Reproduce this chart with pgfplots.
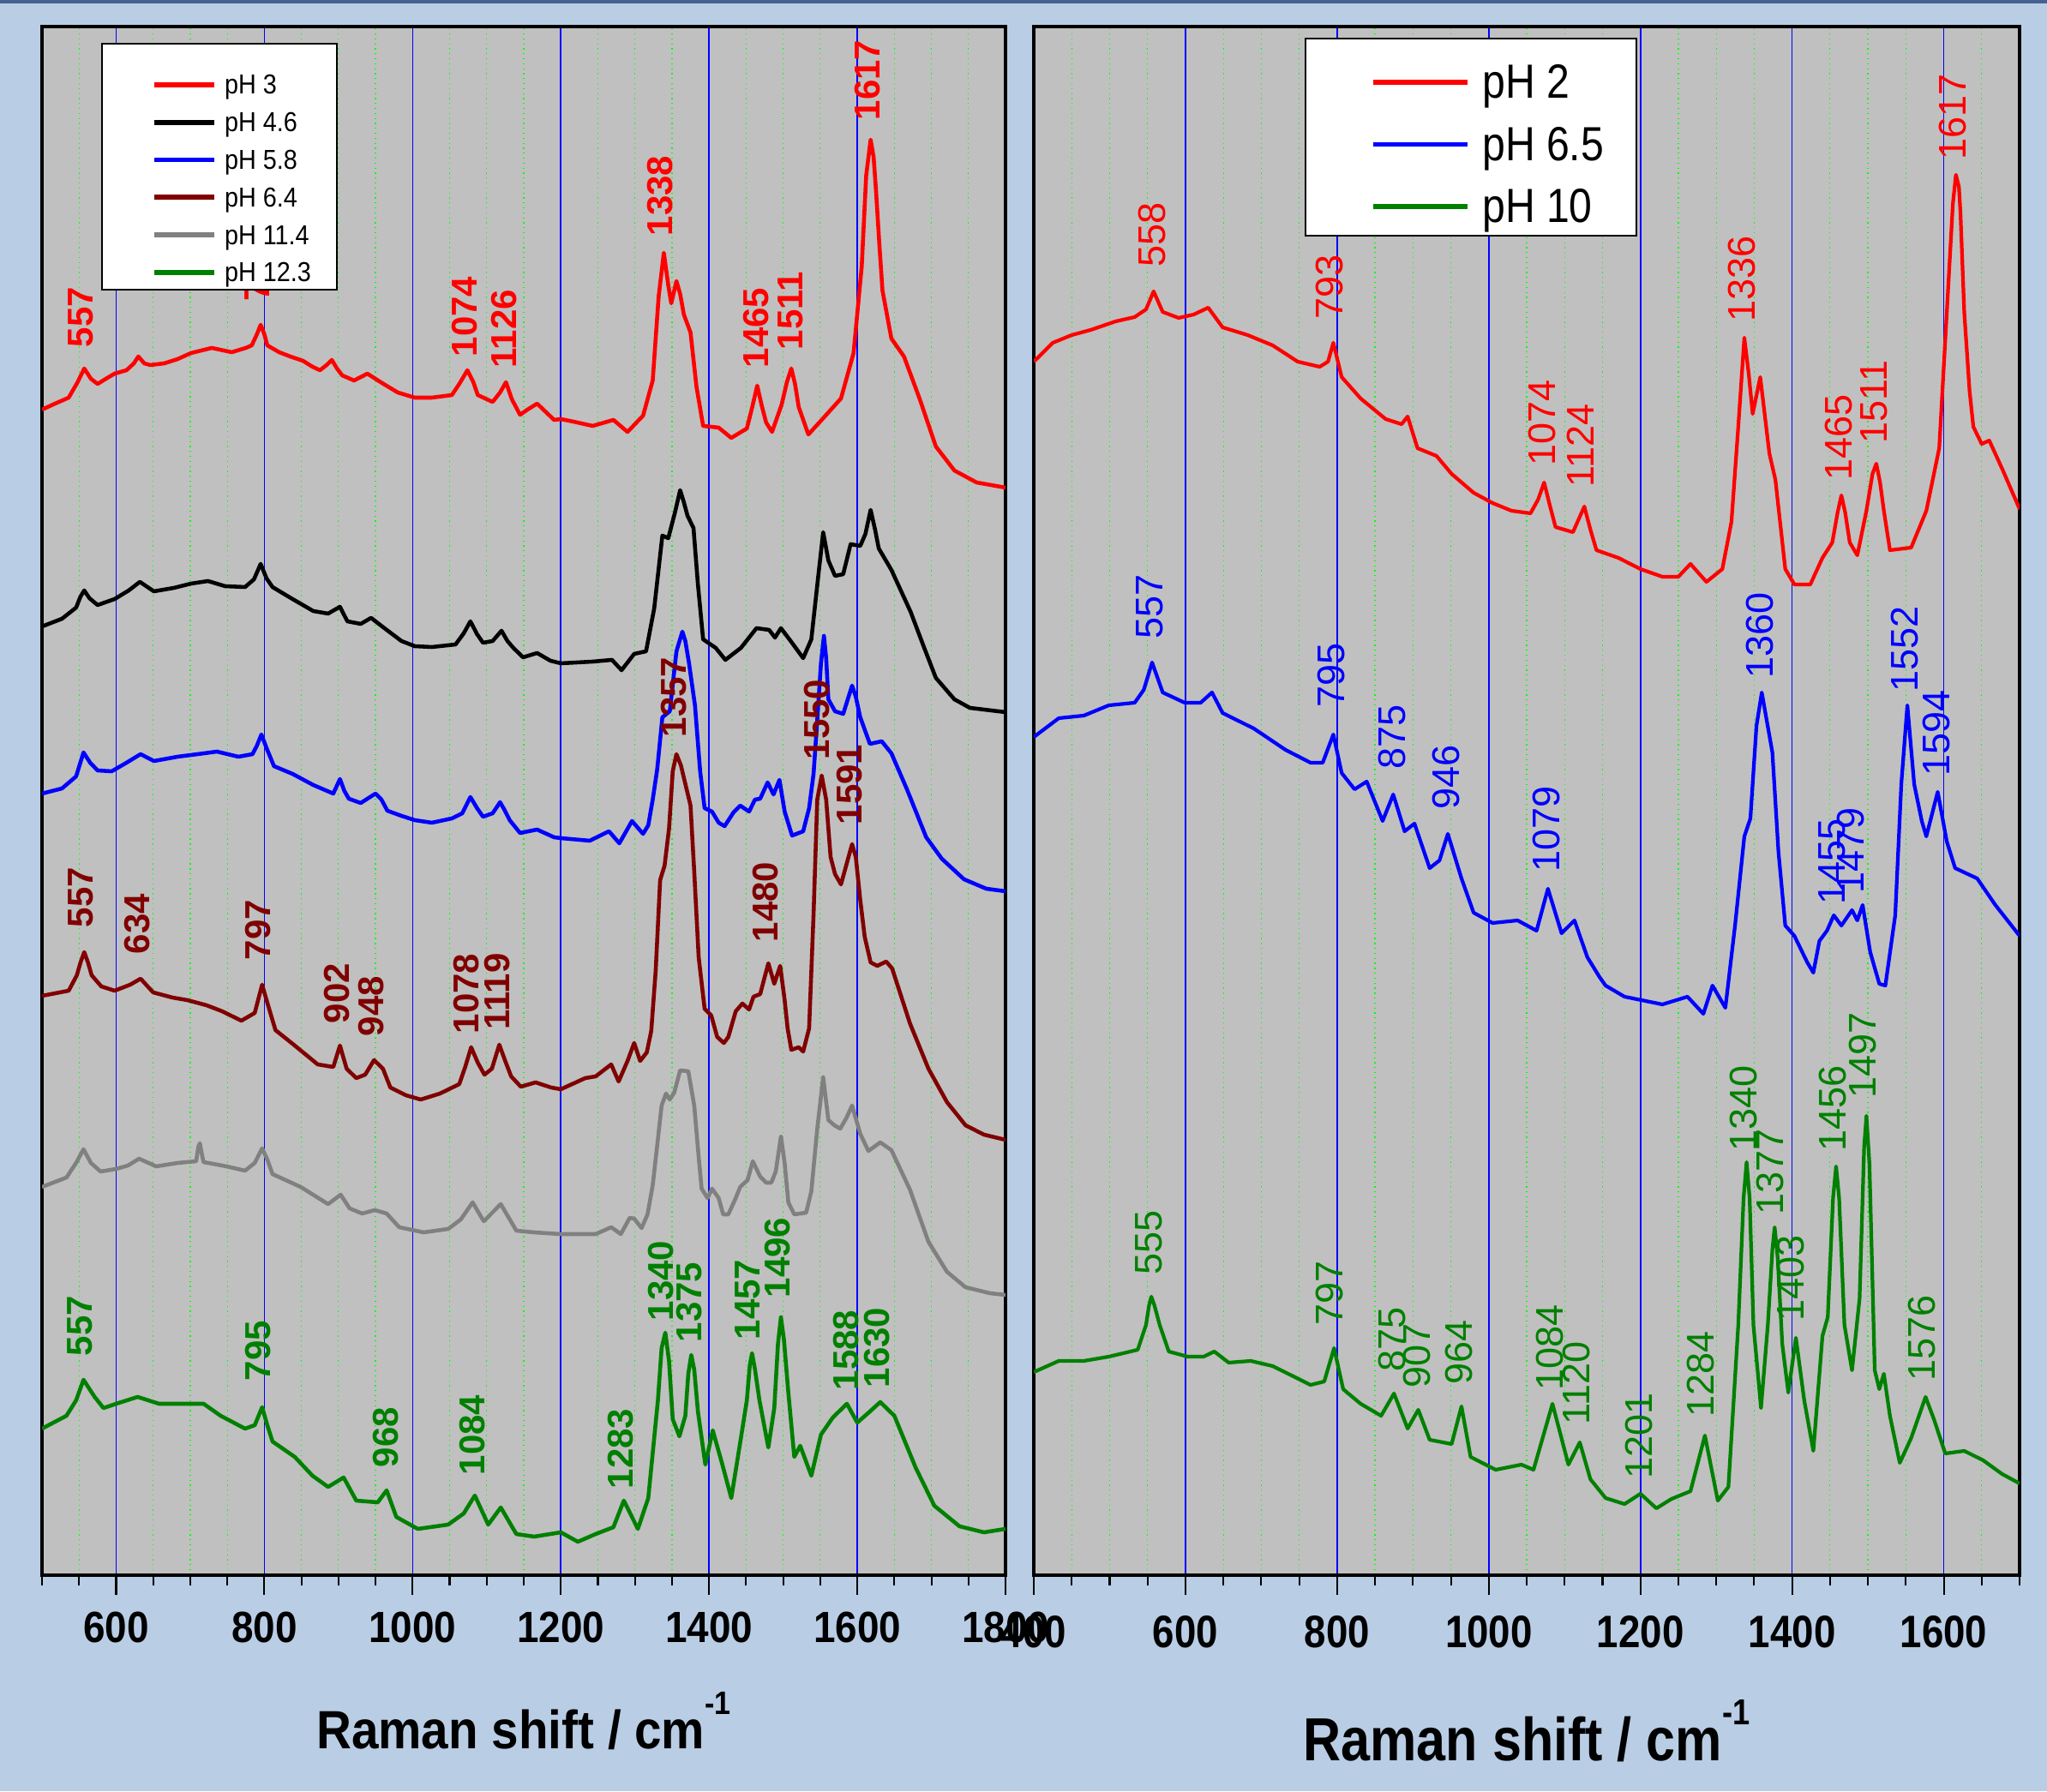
\documentclass[border=0pt]{standalone}
\usepackage{pgfplots}
\pgfplotsset{compat=1.18}
\usepackage{fontspec}
\setmainfont{Liberation Sans}
\newfontfamily\nf[FakeStretch=0.9]{Liberation Sans}
\newfontfamily\nfr[FakeStretch=0.86]{Liberation Sans}
\definecolor{bgblue}{HTML}{B9CDE5}
\definecolor{plotgray}{HTML}{C0C0C0}
\definecolor{topbar}{HTML}{44628F}
\definecolor{dred}{HTML}{800000}
\definecolor{mygreen}{HTML}{008000}
\definecolor{mygray}{HTML}{808080}
\definecolor{gridgreen}{HTML}{00FF00}
\tikzset{lab/.style={rotate=90, anchor=west, inner sep=0pt}}
\begin{document}
\begin{tikzpicture}
\fill[bgblue] (0,0) rectangle (23.88,20.90);
\useasboundingbox (0,0) rectangle (23.88,20.90);
\fill[topbar] (0,20.86) rectangle (23.88,20.90);
\pgfplotsset{
  common/.style={
    scale only axis, height=18.07cm, ymin=0, ymax=1807, ytick=\empty,
    axis background/.style={fill=plotgray},
    axis line style={black, line width=1pt},
    tick align=outside, xtick pos=left,
    major tick length=0.23cm, minor tick length=0.12cm,
    tick style={black, line width=0.6pt},
    xmajorgrids, xminorgrids,
    major grid style={blue, line width=0.45pt},
    minor grid style={gridgreen, line width=0.35pt, dash pattern=on 0.35pt off 1.3pt},
    every axis plot/.append style={line width=1.3pt, line join=round},
    legend cell align=left,
  },
}
% ---------------- LEFT PANEL ----------------
\begin{axis}[common, at={(0.49cm,2.52cm)}, anchor=south west, width=11.24cm,
  xmin=500, xmax=1800, xtick={600,800,...,1800},
  xticklabels={600,800,1000,1200,1400,1600,1800},
  minor xtick={500,550,650,700,750,850,900,950,1050,1100,1150,1250,1300,1350,1450,1500,1550,1650,1700,1750},
  xticklabel style={font=\nf\bfseries\fontsize{14.5pt}{16pt}\selectfont, inner sep=0pt, anchor=north, yshift=-0.19cm},
  xlabel={Raman shift / cm\raisebox{0.63em}{\fontsize{10.8pt}{11pt}\selectfont -1}},
  xlabel style={font=\nf\bfseries\fontsize{17.9pt}{20pt}\selectfont, at={(axis description cs:0.5,-0.1118)}, anchor=base, inner sep=0pt},
  legend style={draw=none, fill=none, at={(0.1139,0.9707)}, anchor=north west, inner sep=0pt, outer sep=0pt, row sep=0.138cm, column sep=0.09cm, font=\nf\fontsize{9.1pt}{10pt}\selectfont, nodes={inner sep=0pt, text height=0.26cm, text depth=0.04cm}},
  legend image code/.code={\draw[#1, line width=1.7pt] (0cm,0cm) -- (0.70cm,0cm);},
]
\addplot[red] coordinates {(500,1360)(515,1366)(536,1374)(548,1392)(557,1408)(566,1396)(575,1390)(590,1398)(598,1402)(614,1406)(624,1414)(630,1422)(638,1414)(646,1412)(665,1414)(683,1419)(701,1426)(729,1432)(756,1427)(775,1432)(783,1435)(790,1448)(795,1459)(800,1448)(804,1435)(820,1427)(835,1422)(852,1417)(865,1410)(875,1406)(884,1412)(891,1418)(898,1408)(905,1400)(921,1394)(939,1402)(957,1392)(980,1380)(1003,1374)(1026,1374)(1053,1377)(1063,1390)(1074,1406)(1082,1392)(1088,1377)(1108,1369)(1118,1380)(1126,1392)(1134,1372)(1145,1354)(1155,1360)(1168,1367)(1191,1348)(1200,1349)(1217,1346)(1243,1341)(1271,1348)(1290,1334)(1311,1353)(1324,1394)(1332,1492)(1339,1543)(1345,1505)(1349,1484)(1356,1510)(1361,1495)(1366,1471)(1375,1450)(1383,1387)(1392,1341)(1413,1339)(1430,1327)(1451,1338)(1458,1362)(1465,1388)(1471,1365)(1477,1345)(1485,1334)(1498,1366)(1505,1392)(1511,1408)(1516,1390)(1521,1363)(1534,1331)(1553,1349)(1578,1373)(1595,1426)(1606,1527)(1612,1633)(1618,1675)(1622,1655)(1625,1619)(1630,1550)(1634,1499)(1646,1443)(1663,1422)(1684,1373)(1706,1317)(1731,1289)(1761,1275)(1800,1269)};
\addplot[black] coordinates {(500,1107)(527,1116)(546,1129)(552,1142)(557,1149)(564,1140)(575,1132)(598,1139)(617,1149)(632,1159)(651,1148)(678,1152)(701,1157)(724,1160)(747,1154)(774,1153)(786,1162)(795,1180)(803,1163)(811,1153)(838,1139)(866,1125)(886,1122)(902,1130)(912,1113)(930,1110)(944,1117)(962,1105)(985,1090)(1003,1084)(1026,1083)(1058,1086)(1069,1099)(1078,1113)(1087,1098)(1095,1088)(1108,1090)(1120,1102)(1128,1090)(1136,1082)(1149,1071)(1168,1076)(1186,1067)(1200,1064)(1243,1066)(1269,1068)(1282,1056)(1299,1075)(1315,1078)(1326,1128)(1337,1213)(1345,1210)(1354,1240)(1361,1266)(1366,1252)(1371,1236)(1379,1222)(1385,1156)(1392,1092)(1409,1082)(1422,1068)(1443,1082)(1464,1105)(1481,1103)(1489,1094)(1497,1105)(1511,1089)(1527,1070)(1538,1092)(1547,1163)(1554,1217)(1561,1184)(1570,1166)(1581,1168)(1591,1203)(1604,1201)(1611,1215)(1618,1243)(1624,1220)(1629,1198)(1646,1173)(1672,1124)(1689,1085)(1706,1047)(1731,1022)(1752,1012)(1800,1007)};
\addplot[blue] coordinates {(500,912)(527,918)(546,932)(556,960)(565,948)(575,939)(594,938)(614,948)(633,958)(651,950)(683,955)(710,958)(736,961)(765,955)(784,958)(790,968)(796,981)(803,965)(813,944)(838,935)(866,922)(893,912)(902,929)(908,915)(914,906)(930,901)(950,912)(958,905)(966,892)(985,886)(1003,881)(1026,878)(1053,883)(1067,889)(1078,908)(1087,895)(1095,885)(1108,889)(1118,902)(1124,893)(1131,881)(1145,866)(1168,870)(1191,861)(1200,860)(1239,857)(1265,868)(1279,854)(1296,880)(1311,865)(1318,875)(1324,905)(1330,940)(1337,1001)(1347,1008)(1356,1078)(1364,1101)(1368,1090)(1373,1064)(1381,1015)(1388,938)(1394,895)(1404,891)(1413,878)(1421,874)(1433,890)(1442,898)(1454,891)(1462,905)(1469,906)(1479,925)(1487,911)(1495,928)(1502,891)(1512,863)(1527,868)(1535,895)(1541,935)(1545,985)(1551,1064)(1555,1096)(1558,1070)(1561,1022)(1570,1008)(1581,1005)(1593,1038)(1598,1025)(1604,1001)(1617,970)(1633,973)(1646,959)(1667,917)(1693,861)(1714,836)(1744,812)(1774,801)(1800,798)};
\addplot[dred] coordinates {(500,676)(536,682)(547,700)(552,715)(557,727)(562,715)(567,700)(580,687)(598,682)(619,689)(633,696)(650,680)(676,674)(696,671)(722,665)(743,658)(769,647)(787,656)(797,689)(805,665)(815,636)(841,618)(872,596)(893,593)(902,618)(911,591)(924,580)(936,584)(948,601)(960,591)(970,569)(991,560)(1011,555)(1037,562)(1063,573)(1071,593)(1079,616)(1088,598)(1097,584)(1107,591)(1117,619)(1125,600)(1133,582)(1146,570)(1166,575)(1187,569)(1200,567)(1233,580)(1247,582)(1268,596)(1278,576)(1290,600)(1299,621)(1307,600)(1316,610)(1322,635)(1328,705)(1334,811)(1340,828)(1346,871)(1351,938)(1356,958)(1362,945)(1375,898)(1380,821)(1386,721)(1394,661)(1403,653)(1411,628)(1420,621)(1426,628)(1436,658)(1445,667)(1454,660)(1460,675)(1469,678)(1480,714)(1488,690)(1496,711)(1502,671)(1506,638)(1511,613)(1521,616)(1527,611)(1535,638)(1541,771)(1546,905)(1552,933)(1558,905)(1564,838)(1570,818)(1578,806)(1585,828)(1593,853)(1598,838)(1604,788)(1610,745)(1618,715)(1627,711)(1639,716)(1647,708)(1671,644)(1696,591)(1721,552)(1746,525)(1771,514)(1800,508)};
\addplot[mygray] coordinates {(500,453)(533,464)(546,481)(556,497)(566,481)(579,471)(600,474)(616,478)(631,486)(654,477)(683,481)(708,483)(711,500)(713,504)(716,490)(718,482)(749,477)(774,472)(787,481)(797,498)(804,485)(811,468)(849,453)(886,433)(903,444)(915,428)(932,422)(949,426)(965,422)(982,406)(1015,400)(1048,404)(1065,415)(1081,435)(1096,413)(1119,433)(1140,402)(1164,400)(1200,398)(1247,398)(1268,406)(1281,398)(1293,417)(1299,416)(1309,405)(1317,421)(1324,455)(1330,501)(1336,548)(1342,562)(1347,555)(1353,563)(1361,589)(1372,588)(1380,548)(1386,488)(1390,451)(1398,440)(1404,451)(1413,440)(1419,421)(1426,421)(1436,440)(1442,453)(1452,461)(1459,483)(1469,465)(1477,458)(1484,458)(1490,471)(1497,512)(1502,481)(1507,435)(1515,421)(1531,423)(1538,448)(1546,521)(1554,581)(1561,531)(1569,525)(1577,521)(1585,533)(1593,548)(1604,515)(1615,495)(1631,505)(1646,496)(1671,450)(1696,389)(1721,354)(1746,336)(1779,329)(1800,327)};
\addplot[mygreen] coordinates {(500,171)(533,186)(546,204)(556,228)(571,208)(583,195)(600,200)(629,208)(658,200)(691,200)(718,200)(741,186)(774,171)(787,175)(797,196)(804,175)(811,156)(841,138)(865,116)(886,103)(907,114)(924,87)(953,85)(965,99)(978,68)(1007,54)(1048,59)(1069,72)(1084,93)(1102,59)(1119,79)(1140,48)(1164,45)(1200,50)(1223,39)(1247,48)(1271,56)(1285,87)(1304,54)(1318,90)(1331,204)(1336,265)(1341,283)(1346,250)(1351,182)(1360,162)(1368,186)(1372,235)(1376,257)(1380,240)(1385,191)(1395,129)(1405,169)(1418,129)(1430,90)(1443,160)(1451,204)(1455,245)(1458,259)(1462,240)(1468,204)(1480,149)(1488,195)(1493,270)(1497,301)(1501,275)(1507,213)(1515,138)(1523,151)(1538,116)(1551,164)(1567,184)(1586,200)(1600,178)(1617,191)(1631,202)(1650,186)(1679,125)(1704,81)(1738,57)(1771,50)(1800,54)};
\legend{pH 3,pH 4.6,pH 5.8,pH 6.4,pH 11.4,pH 12.3}
\begin{scope}[every node/.style={lab, font=\bfseries\fontsize{11.95pt}{13pt}\selectfont}]
\node[text=red] at (axis cs:552,1432) {557};
\node[text=red] at (axis cs:790,1486) {797};
\node[text=red] at (axis cs:1070,1421) {1074};
\node[text=red] at (axis cs:1124,1408) {1126};
\node[text=red] at (axis cs:1334,1562) {1338};
\node[text=red] at (axis cs:1464,1408) {1465};
\node[text=red] at (axis cs:1510,1429) {1511};
\node[text=red] at (axis cs:1614,1697) {1617};
\node[text=dred] at (axis cs:552,755) {557};
\node[text=dred] at (axis cs:629,724) {634};
\node[text=dred] at (axis cs:792,717) {797};
\node[text=dred] at (axis cs:898,643) {902};
\node[text=dred] at (axis cs:944,628) {948};
\node[text=dred] at (axis cs:1072,631) {1078};
\node[text=dred] at (axis cs:1114,636) {1119};
\node[text=dred] at (axis cs:1353,977) {1357};
\node[text=dred] at (axis cs:1476,738) {1480};
\node[text=dred] at (axis cs:1546,951) {1550};
\node[text=dred] at (axis cs:1589,875) {1591};
\node[text=mygreen] at (axis cs:551.5,255) {557};
\node[text=mygreen] at (axis cs:791,226) {795};
\node[text=mygreen] at (axis cs:964,125) {968};
\node[text=mygreen] at (axis cs:1080.6,116) {1084};
\node[text=mygreen] at (axis cs:1281,100) {1283};
\node[text=mygreen] at (axis cs:1335.5,296) {1340};
\node[text=mygreen] at (axis cs:1373,271) {1375};
\node[text=mygreen] at (axis cs:1452,274) {1457};
\node[text=mygreen] at (axis cs:1492.5,323) {1496};
\node[text=mygreen] at (axis cs:1584.7,215) {1588};
\node[text=mygreen] at (axis cs:1626,218) {1630};
\end{scope}
\draw[fill=white, draw=black, line width=0.6pt] (axis cs:581,1500) rectangle (axis cs:898,1787);
\end{axis}
% ---------------- RIGHT PANEL ----------------
\begin{axis}[common, at={(12.06cm,2.52cm)}, anchor=south west, width=11.50cm,
  xmin=400, xmax=1700, xtick={400,600,...,1600},
  xticklabels={400,600,800,1000,1200,1400,1600},
  minor xtick={450,500,550,650,700,750,850,900,950,1050,1100,1150,1250,1300,1350,1450,1500,1550,1650,1700},
  xticklabel style={font=\nfr\bfseries\fontsize{15.1pt}{17pt}\selectfont, inner sep=0pt, anchor=north, yshift=-0.24cm},
  xlabel={Raman shift / cm\raisebox{0.59em}{\fontsize{12pt}{13pt}\selectfont -1}},
  xlabel style={font=\nfr\bfseries\fontsize{20.2pt}{22pt}\selectfont, at={(axis description cs:0.5,-0.120)}, anchor=base, inner sep=0pt},
  every axis plot/.append style={line width=1.2pt},
  legend style={draw=none, fill=none, at={(0.3417,0.9779)}, anchor=north west, inner sep=0pt, outer sep=0pt, row sep=0.225cm, column sep=0.15cm, font=\nfr\fontsize{15.93pt}{17pt}\selectfont, nodes={inner sep=0pt, text height=0.44cm, text depth=0.06cm}},
  legend image code/.code={\draw[#1, line width=1.5pt] (0cm,0cm) -- (1.10cm,0cm);},
]
\addplot[red] coordinates {(400,1416)(425,1438)(450,1447)(475,1453)(508,1463)(533,1468)(548,1477)(558,1498)(570,1474)(591,1467)(611,1471)(630,1479)(649,1456)(682,1447)(715,1435)(748,1416)(777,1410)(788,1416)(795,1438)(806,1398)(831,1373)(864,1349)(885,1343)(893,1352)(906,1315)(931,1306)(951,1285)(980,1263)(1005,1251)(1030,1242)(1055,1239)(1065,1255)(1073,1275)(1080,1250)(1088,1223)(1111,1217)(1126,1247)(1134,1220)(1142,1196)(1171,1187)(1200,1174)(1229,1165)(1250,1165)(1266,1180)(1287,1159)(1308,1174)(1320,1229)(1329,1340)(1337,1444)(1343,1400)(1348,1355)(1358,1398)(1370,1309)(1378,1278)(1391,1174)(1403,1156)(1424,1156)(1440,1187)(1453,1205)(1460,1240)(1465,1260)(1470,1240)(1476,1205)(1486,1190)(1498,1242)(1506,1285)(1511,1297)(1516,1275)(1521,1242)(1529,1196)(1557,1199)(1577,1242)(1594,1315)(1606,1505)(1612,1600)(1616,1634)(1620,1620)(1622,1590)(1627,1474)(1634,1382)(1639,1340)(1650,1320)(1660,1324)(1677,1291)(1700,1244)};
\addplot[blue] coordinates {(400,978)(433,1000)(466,1003)(499,1015)(533,1018)(545,1033)(556,1065)(570,1030)(599,1018)(620,1018)(635,1030)(649,1006)(690,988)(732,963)(765,948)(781,948)(795,981)(806,936)(823,917)(839,926)(860,880)(874,911)(889,868)(902,877)(922,825)(935,834)(946,865)(964,813)(980,773)(1005,761)(1038,764)(1063,752)(1078,801)(1096,749)(1113,764)(1130,721)(1146,698)(1154,688)(1179,675)(1229,666)(1262,675)(1283,655)(1295,688)(1312,662)(1325,760)(1337,862)(1345,883)(1353,991)(1360,1030)(1366,1000)(1374,960)(1382,844)(1391,758)(1403,746)(1420,715)(1428,703)(1436,740)(1446,752)(1455,770)(1465,758)(1479,776)(1486,764)(1493,782)(1503,727)(1515,690)(1523,688)(1536,770)(1544,923)(1552,1015)(1561,923)(1571,880)(1577,862)(1592,914)(1604,856)(1615,825)(1644,813)(1668,782)(1700,746)};
\addplot[mygreen] coordinates {(400,237)(433,250)(466,250)(499,255)(537,263)(548,292)(552,315)(555,325)(559,315)(566,292)(578,261)(603,255)(624,255)(638,261)(657,248)(686,250)(715,244)(740,233)(765,222)(783,226)(796,265)(808,217)(831,200)(858,186)(875,212)(893,171)(907,193)(922,158)(951,153)(964,197)(976,138)(1009,123)(1043,129)(1059,123)(1084,200)(1105,129)(1120,155)(1134,112)(1154,90)(1179,83)(1200,95)(1221,78)(1241,89)(1266,98)(1285,163)(1302,87)(1316,103)(1329,292)(1336,440)(1340,482)(1344,440)(1349,292)(1359,195)(1368,292)(1374,380)(1377,406)(1381,370)(1387,270)(1395,213)(1405,277)(1416,204)(1428,145)(1440,279)(1447,301)(1454,440)(1458,477)(1462,440)(1469,292)(1479,239)(1489,323)(1495,500)(1498,536)(1502,480)(1509,239)(1515,217)(1521,235)(1529,186)(1542,131)(1557,160)(1576,208)(1587,182)(1602,142)(1627,145)(1652,134)(1677,118)(1700,107)};
\legend{pH 2,pH 6.5,pH 10}
\begin{scope}[every node/.style={lab, font=\fontsize{12.8pt}{14pt}\selectfont}]
\node[text=red] at (axis cs:556,1526) {558};
\node[text=red] at (axis cs:790.5,1465) {793};
\node[text=red] at (axis cs:1070.7,1294) {1074};
\node[text=red] at (axis cs:1120.4,1269) {1124};
\node[text=red] at (axis cs:1333.5,1462) {1336};
\node[text=red] at (axis cs:1461,1277) {1465};
\node[text=red] at (axis cs:1507.6,1320) {1511};
\node[text=red] at (axis cs:1612,1651) {1617};
\node[text=blue] at (axis cs:553,1092) {557};
\node[text=blue] at (axis cs:792,1012) {795};
\node[text=blue] at (axis cs:872.6,940) {875};
\node[text=blue] at (axis cs:944,893) {946};
\node[text=blue] at (axis cs:1076.5,820) {1079};
\node[text=blue] at (axis cs:1357.5,1046) {1360};
\node[text=blue] at (axis cs:1453,782) {1455};
\node[text=blue] at (axis cs:1477,795) {1479};
\node[text=blue] at (axis cs:1548,1030) {1552};
\node[text=blue] at (axis cs:1590.5,932) {1594};
\node[text=mygreen] at (axis cs:551.7,350) {555};
\node[text=mygreen] at (axis cs:790.5,291) {797};
\node[text=mygreen] at (axis cs:872.6,237) {875};
\node[text=mygreen] at (axis cs:905.7,218) {907};
\node[text=mygreen] at (axis cs:960.4,222) {964};
\node[text=mygreen] at (axis cs:1080.6,215) {1084};
\node[text=mygreen] at (axis cs:1115.5,175) {1120};
\node[text=mygreen] at (axis cs:1197.5,112) {1201};
\node[text=mygreen] at (axis cs:1279.6,184) {1284};
\node[text=mygreen] at (axis cs:1336,494) {1340};
\node[text=mygreen] at (axis cs:1371,420) {1377};
\node[text=mygreen] at (axis cs:1398,296) {1403};
\node[text=mygreen] at (axis cs:1453.7,494) {1456};
\node[text=mygreen] at (axis cs:1493.5,556) {1497};
\node[text=mygreen] at (axis cs:1571.5,226) {1576};
\end{scope}
\draw[fill=white, draw=black, line width=0.6pt] (axis cs:758,1563) rectangle (axis cs:1195,1793);
\end{axis}
\end{tikzpicture}
\end{document}
